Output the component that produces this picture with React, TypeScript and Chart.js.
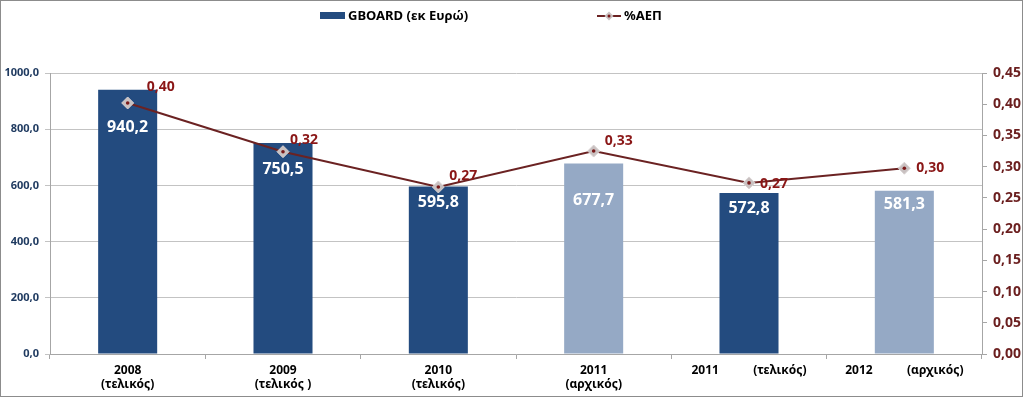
import React, { useEffect, useRef } from "react";
import { Chart, registerables } from "chart.js";

Chart.register(...registerables);

const categories: (string | string[])[] = [
  ["2008", "(τελικός)"],
  ["2009", "(τελικός )"],
  ["2010", "(τελικός)"],
  ["2011", "(αρχικός)"],
  "2011           (τελικός)",
  "2012           (αρχικός)",
];
const gboardValues = [940.2, 750.5, 595.8, 677.7, 572.8, 581.3];
const gdpShare = [0.402, 0.324, 0.2675, 0.325, 0.274, 0.2975];
const isInitial = [false, false, false, true, false, true];
const barLabel = "GBOARD (εκ Ευρώ)";
const lineLabel = "%ΑΕΠ";

const FONT = "'Noto Sans', 'DejaVu Sans', sans-serif";
const DARK = "#234b7f";
const LIGHT = "#95a9c5";
const LINE = "#6b2222";
const RED_TXT = "#8a1616";

// label placement tweaks (style only)
const barLabelDy = [38, 26, 16, 37, 15, 14];
const lineLabelDx = [19, 7, 11, 11, 11, 12];
const lineLabelDy = [-16, -12, -11, -10, 1, 0];

const fmt = (v: number, d: number) => v.toFixed(d).replace(".", ",");

const decoPlugin = {
  id: "deco",
  afterDatasetsDraw(chart: any) {
    const ctx = chart.ctx;
    const barMeta = chart.getDatasetMeta(1);
    const lineMeta = chart.getDatasetMeta(0);
    ctx.save();
    lineMeta.data.forEach((pt: any) => {
      ctx.beginPath();
      ctx.fillStyle = "#7a1a1a";
      ctx.arc(pt.x, pt.y, 1.8, 0, Math.PI * 2);
      ctx.fill();
    });
    ctx.textAlign = "center";
    ctx.textBaseline = "middle";
    ctx.font = `bold 16px ${FONT}`;
    ctx.fillStyle = "#ffffff";
    barMeta.data.forEach((bar: any, i: number) => {
      ctx.fillText(fmt(gboardValues[i], 1), bar.x, bar.y + barLabelDy[i]);
    });
    ctx.textAlign = "left";
    ctx.font = `bold 14px ${FONT}`;
    ctx.fillStyle = RED_TXT;
    lineMeta.data.forEach((pt: any, i: number) => {
      ctx.fillText(fmt(gdpShare[i], 2), pt.x + lineLabelDx[i], pt.y + lineLabelDy[i]);
    });
    ctx.restore();
  },
  afterDraw(chart: any) {
    const ctx = chart.ctx;
    ctx.save();
    ctx.strokeStyle = "#8c8c8c";
    ctx.lineWidth = 1;
    ctx.strokeRect(0.5, 0.5, 1022, 396);
    ctx.fillStyle = DARK;
    ctx.fillRect(320, 12, 25, 7);
    ctx.font = `bold 13px ${FONT}`;
    ctx.fillStyle = "#000";
    ctx.textBaseline = "middle";
    ctx.textAlign = "left";
    ctx.fillText(barLabel, 348, 16);
    ctx.strokeStyle = LINE;
    ctx.lineWidth = 2;
    ctx.beginPath();
    ctx.moveTo(597, 16);
    ctx.lineTo(621, 16);
    ctx.stroke();
    ctx.beginPath();
    ctx.moveTo(609, 11.5);
    ctx.lineTo(613.5, 16);
    ctx.lineTo(609, 20.5);
    ctx.lineTo(604.5, 16);
    ctx.closePath();
    ctx.fillStyle = "#c9c1c1";
    ctx.fill();
    ctx.beginPath();
    ctx.fillStyle = "#7a1a1a";
    ctx.arc(609, 16, 1.5, 0, Math.PI * 2);
    ctx.fill();
    ctx.fillStyle = "#000";
    ctx.fillText(lineLabel, 624, 16);
    ctx.restore();
  },
};

export default function App() {
  const ref = useRef<HTMLCanvasElement>(null);
  useEffect(() => {
    document.body.style.margin = "0";
    const chart = new Chart(ref.current!, {
      type: "bar",
      data: {
        labels: categories as any,
        datasets: [
          {
            type: "line",
            label: lineLabel,
            data: gdpShare,
            yAxisID: "y1",
            borderColor: LINE,
            borderWidth: 2,
            pointStyle: "rectRot",
            pointRadius: 6,
            pointBackgroundColor: "#c9c1c1",
            pointBorderColor: "#d8d2d2",
            pointBorderWidth: 1,
            tension: 0,
            order: 0,
          } as any,
          {
            type: "bar",
            label: barLabel,
            data: gboardValues,
            yAxisID: "y",
            backgroundColor: isInitial.map((v) => (v ? LIGHT : DARK)),
            barPercentage: 0.38,
            categoryPercentage: 1,
            order: 1,
          },
        ],
      },
      options: {
        responsive: false,
        animation: false,
        layout: { padding: { top: 73, left: 0, right: 0, bottom: 0 } },
        plugins: { legend: { display: false }, tooltip: { enabled: false } },
        scales: {
          x: {
            grid: {
              offset: true,
              drawOnChartArea: false,
              drawTicks: true,
              tickLength: 5,
              color: "#a6a6a6",
            },
            border: { color: "#a6a6a6" },
            ticks: {
              maxRotation: 0,
              autoSkip: false,
              padding: 4,
              color: "#000",
              font: { family: FONT, size: 12, weight: "bold", lineHeight: 1.2 },
            },
            afterFit(scale: any) {
              scale.height = 45;
            },
          },
          y: {
            position: "left",
            min: 0,
            max: 1000,
            ticks: {
              stepSize: 200,
              padding: 6,
              color: "#1f3a60",
              font: { family: FONT, size: 11, weight: "bold" },
              callback: (v: any) => fmt(Number(v), 1),
            },
            grid: { color: "#c3c3c3", tickLength: 5 },
            border: { color: "#a6a6a6" },
            afterFit(scale: any) {
              scale.width = 50;
            },
          },
          y1: {
            position: "right",
            min: 0,
            max: 0.45,
            ticks: {
              stepSize: 0.05,
              padding: 6,
              color: "#6b1f1f",
              font: { family: FONT, size: 14, weight: "bold" },
              callback: (v: any) => fmt(Number(v), 2),
            },
            grid: { drawOnChartArea: false, color: "#a6a6a6", tickLength: 5 },
            border: { color: "#a6a6a6" },
            afterFit(scale: any) {
              scale.width = 42;
            },
          },
        },
      },
      plugins: [decoPlugin],
    });
    return () => chart.destroy();
  }, []);
  return (
    <div style={{ width: 1024, height: 399, background: "#fff" }}>
      <canvas ref={ref} width={1024} height={399} />
    </div>
  );
}
